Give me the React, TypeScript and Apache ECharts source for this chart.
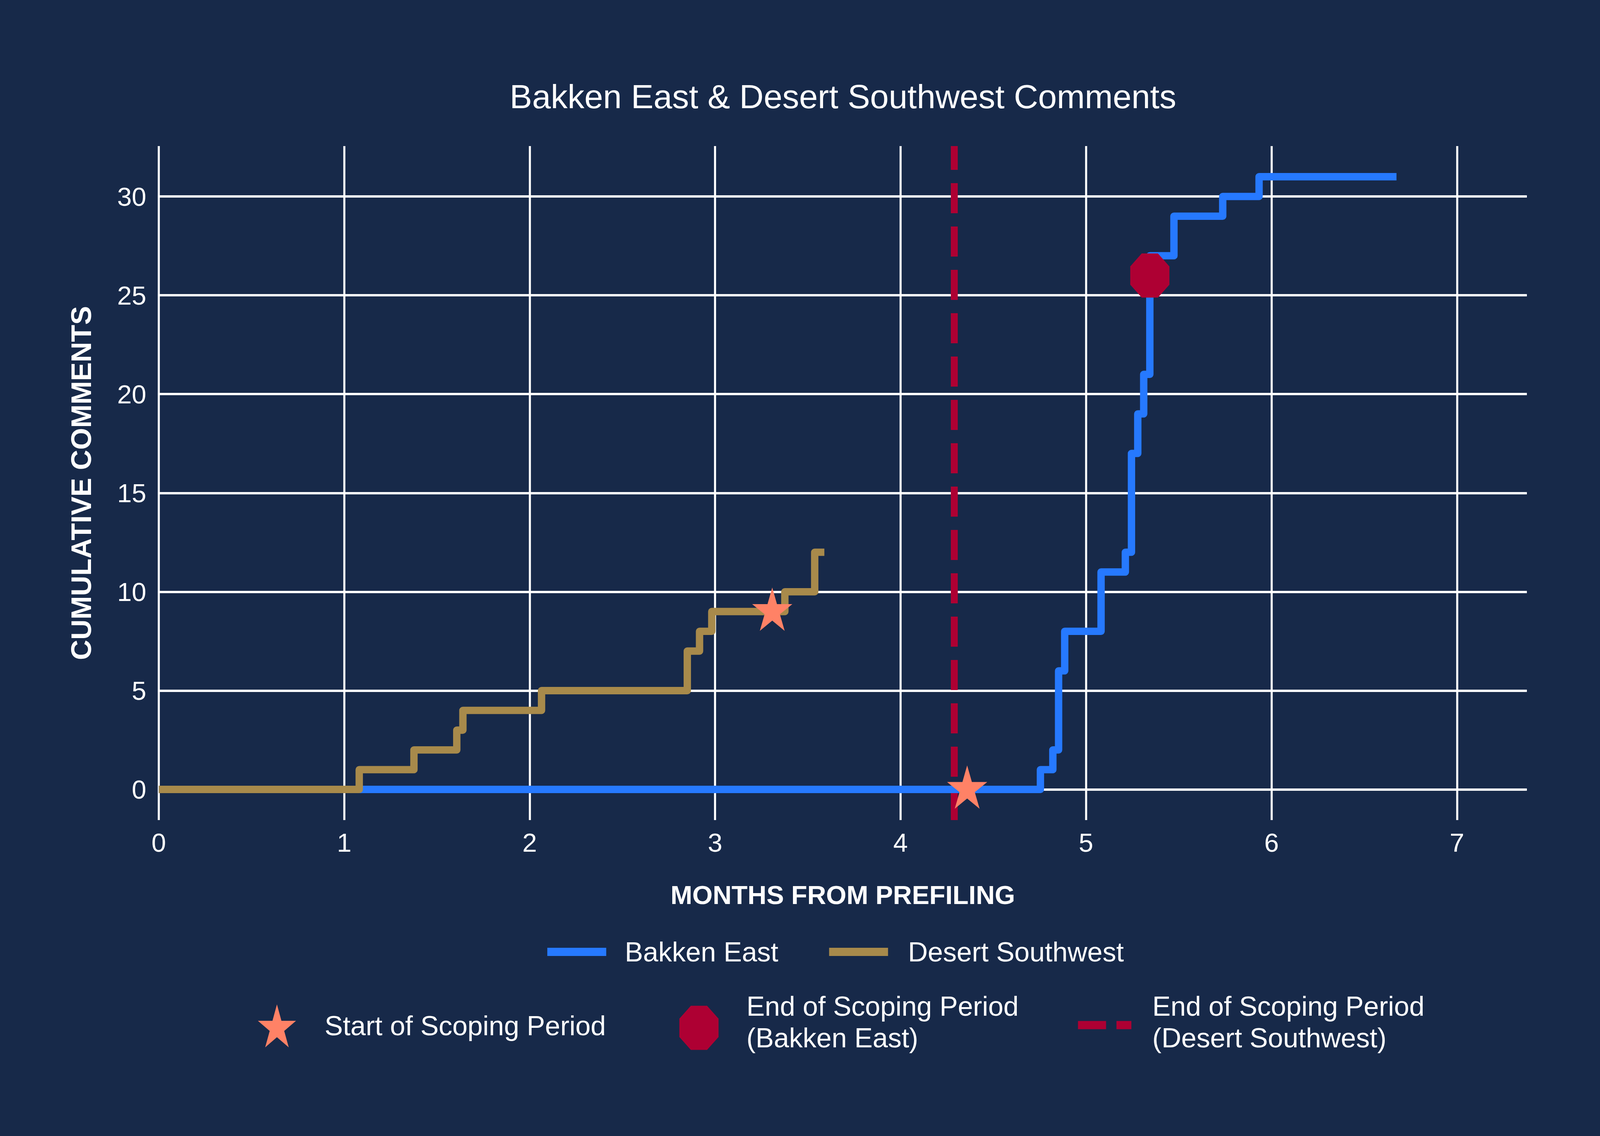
import React, { useEffect, useRef } from "react";
import * as echarts from "echarts";

// ---- data ----
const bakkenX = [0, 4.754, 4.821, 4.852, 4.885, 5.081, 5.212, 5.245, 5.279, 5.311, 5.344, 5.474, 5.737, 5.933, 6.674];
const bakkenY = [0, 1, 2, 6, 8, 11, 12, 17, 19, 21, 27, 29, 30, 31, 31];
const desertX = [0, 1.081, 1.376, 1.607, 1.64, 2.064, 2.85, 2.916, 2.982, 3.376, 3.537, 3.589];
const desertY = [0, 1, 2, 3, 4, 5, 7, 8, 9, 10, 12, 12];
const scopingStartX = [3.308, 4.359];
const scopingStartY = [9, 0];
const bakkenEndX = [5.344];
const bakkenEndY = [26];
const desertEndX = [4.295];
const xTicks = [0, 1, 2, 3, 4, 5, 6, 7];
const yTicks = [0, 5, 10, 15, 20, 25, 30];
const xRange = [0, 7.377];
const yRange = [-1.55, 32.55];

const TITLE = "Bakken East & Desert Southwest Comments";
const X_NAME = "MONTHS FROM PREFILING";
const Y_NAME = "CUMULATIVE COMMENTS";
const N_BAKKEN = "Bakken East";
const N_DESERT = "Desert Southwest";
const N_START = "Start of Scoping Period";
const N_END_BE = "End of Scoping Period\n(Bakken East)";
const N_END_DS = "End of Scoping Period\n(Desert Southwest)";

// ---- styles ----
const BG = "#172949";
const BLUE = "#2679FF";
const TAN = "#A88A4B";
const SALMON = "#FF8266";
const CRIMSON = "#AE0033";
const FONT = '"Liberation Sans", Arial, sans-serif';
const REF_W = 4616;
const REF_H = 2909;

function starPath(R: number, r: number) {
  let d = "";
  for (let i = 0; i < 10; i++) {
    const a = -Math.PI / 2 + (i * Math.PI) / 5;
    const rad = i % 2 === 0 ? R : r;
    d += (i === 0 ? "M" : "L") + (rad * Math.cos(a)).toFixed(2) + " " + (rad * Math.sin(a)).toFixed(2);
  }
  return d + "Z";
}
function octagonPath(R: number) {
  let d = "";
  for (let i = 0; i < 8; i++) {
    const a = ((22.5 + i * 45) * Math.PI) / 180;
    d += (i === 0 ? "M" : "L") + (R * Math.cos(a)).toFixed(2) + " " + (R * Math.sin(a)).toFixed(2);
  }
  return d + "Z";
}
const STAR = "path://" + starPath(100, 38);
const OCTAGON = "path://" + octagonPath(100);
const OCTAGON_LEGEND = "path://M0 -141.4 " + octagonPath(100);
const DASH_LEGEND = "path://M0 0 M0 16L81 16L81 37L0 37Z M111 16L154 16L154 37L111 37Z";

const pairs = (xs: number[], ys: number[]) => xs.map((x, i) => [x, ys[i]]);

function viewport() {
  const w = typeof window !== "undefined" && window.innerWidth ? window.innerWidth : REF_W;
  const h = typeof window !== "undefined" && window.innerHeight ? window.innerHeight : REF_H;
  return { w, h };
}

export default function App() {
  const ref = useRef<HTMLDivElement>(null);
  const { w, h } = viewport();
  useEffect(() => {
    document.body.style.margin = "0";
    document.body.style.overflow = "hidden";
    const kx = w / REF_W;
    const ky = h / REF_H;
    const sx = (v: number) => v * kx;
    const sy = (v: number) => v * ky;
    const sw = (v: number) => (v * (kx + ky)) / 2;
    const chart = echarts.init(ref.current!, null, { renderer: "svg" });
    const legendText = { color: "#fff", fontSize: sy(70), fontFamily: FONT, lineHeight: sy(81) };
    const legendCommon = {
      padding: 0,
      selectedMode: false,
      orient: "horizontal" as const,
      symbolKeepAspect: false,
    };
    chart.setOption({
      animation: false,
      backgroundColor: BG,
      grid: { left: sx(458), right: sx(211), top: sy(374), bottom: sy(809), containLabel: false },
      graphic: [
        {
          type: "text",
          x: sx(2432),
          y: sy(247),
          style: {
            text: TITLE,
            fill: "#fff",
            fontSize: sy(86),
            fontFamily: FONT,
            align: "center",
            verticalAlign: "middle",
          },
        },
      ],
      xAxis: {
        type: "value",
        min: xRange[0],
        max: xRange[1],
        axisLine: { show: false },
        axisTick: { show: false },
        splitLine: { show: false },
        axisLabel: {
          customValues: xTicks,
          color: "#fff",
          fontSize: sy(67),
          fontFamily: FONT,
          margin: sy(24),
          formatter: (v: number) => (xTicks.includes(v) ? String(v) : ""),
        },
        name: X_NAME,
        nameLocation: "middle",
        nameGap: sy(158),
        nameTextStyle: { color: "#fff", fontSize: sy(67), fontWeight: "bold", fontFamily: FONT },
      },
      yAxis: {
        type: "value",
        min: yRange[0],
        max: yRange[1],
        axisLine: { show: false },
        axisTick: { show: false },
        splitLine: { show: false },
        axisLabel: {
          customValues: yTicks,
          color: "#fff",
          fontSize: sy(67),
          fontFamily: FONT,
          margin: sx(36),
          formatter: (v: number) => (yTicks.includes(v) ? String(v) : ""),
        },
        name: Y_NAME,
        nameLocation: "middle",
        nameGap: sx(458 - 234) - sy(36),
        nameTextStyle: { color: "#fff", fontSize: sy(72), fontWeight: "bold", fontFamily: FONT },
      },
      legend: [
        {
          ...legendCommon,
          left: sx(1579),
          top: sy(2397),
          itemWidth: sx(170),
          itemHeight: sy(21),
          textStyle: { ...legendText, padding: [0, 0, 0, sx(48)] },
          data: [{ name: N_BAKKEN, icon: "rect", itemStyle: { color: BLUE, borderWidth: 0 } }],
        },
        {
          ...legendCommon,
          left: sx(2392),
          top: sy(2397),
          itemWidth: sx(170),
          itemHeight: sy(21),
          textStyle: { ...legendText, padding: [0, 0, 0, sx(52)] },
          data: [{ name: N_DESERT, icon: "rect", itemStyle: { color: TAN, borderWidth: 0 } }],
        },
        {
          ...legendCommon,
          left: sx(744),
          top: sy(2572),
          itemWidth: sx(110),
          itemHeight: sy(110),
          textStyle: { ...legendText, padding: [0, 0, 0, sx(77)] },
          data: [{ name: N_START, icon: STAR, itemStyle: { color: SALMON, borderWidth: 0 } }],
        },
        {
          ...legendCommon,
          left: sx(1960),
          top: sy(2536),
          itemWidth: sx(113),
          itemHeight: sy(143),
          textStyle: { ...legendText, padding: [0, 0, 0, sx(75)] },
          data: [{ name: N_END_BE, icon: OCTAGON_LEGEND, itemStyle: { color: CRIMSON, borderWidth: 0 } }],
        },
        {
          ...legendCommon,
          left: sx(3110),
          top: sy(2536),
          itemWidth: sx(154),
          itemHeight: sy(37),
          textStyle: { ...legendText, padding: [0, 0, 0, sx(55)] },
          data: [{ name: N_END_DS, icon: DASH_LEGEND, itemStyle: { color: CRIMSON, borderWidth: 0 } }],
        },
      ],
      series: [
        {
          type: "line",
          name: "__grid",
          data: [],
          silent: true,
          markLine: {
            z: 1,
            silent: true,
            symbol: ["none", "none"],
            label: { show: false },
            emphasis: { disabled: true },
            lineStyle: { color: "#ffffff", width: sy(6), type: "solid" },
            data: [
              ...xTicks.map((v) => ({ xAxis: v, lineStyle: { color: "#ffffff", width: sx(6), type: "solid" } })),
              ...yTicks.map((v) => ({ yAxis: v, lineStyle: { color: "#ffffff", width: sy(6), type: "solid" } })),
            ],
          },
        },
        {
          type: "line",
          name: N_END_DS,
          data: [],
          silent: true,
          itemStyle: { color: CRIMSON },
          lineStyle: { color: CRIMSON },
          markLine: {
            z: 2,
            silent: true,
            symbol: ["none", "none"],
            label: { show: false },
            emphasis: { disabled: true },
            lineStyle: { color: CRIMSON, width: sx(20), type: [sy(77), sy(34)], cap: "butt" },
            data: desertEndX.map((v) => ({ xAxis: v })),
          },
        },
        {
          type: "line",
          name: N_BAKKEN,
          z: 3,
          step: "end",
          symbol: "none",
          showSymbol: false,
          silent: true,
          data: pairs(bakkenX, bakkenY),
          itemStyle: { color: BLUE },
          lineStyle: { color: BLUE, width: sw(20), join: "round", cap: "butt" },
        },
        {
          type: "line",
          name: N_DESERT,
          z: 3,
          step: "end",
          symbol: "none",
          showSymbol: false,
          silent: true,
          data: pairs(desertX, desertY),
          itemStyle: { color: TAN },
          lineStyle: { color: TAN, width: sw(20), join: "round", cap: "butt" },
        },
        {
          type: "scatter",
          name: N_START,
          z: 4,
          silent: true,
          symbol: STAR,
          symbolKeepAspect: false,
          symbolSize: [sx(116), sy(111)],
          symbolOffset: [0, -sy(6)],
          itemStyle: { color: SALMON, opacity: 1 },
          data: pairs(scopingStartX, scopingStartY),
        },
        {
          type: "scatter",
          name: N_END_BE,
          z: 4,
          silent: true,
          symbol: OCTAGON,
          symbolKeepAspect: false,
          symbolSize: [sx(113), sy(113)],
          itemStyle: { color: CRIMSON, opacity: 1 },
          data: pairs(bakkenEndX, bakkenEndY),
        },
      ],
    });
    return () => chart.dispose();
  }, []);
  return <div ref={ref} style={{ width: w, height: h }} />;
}
